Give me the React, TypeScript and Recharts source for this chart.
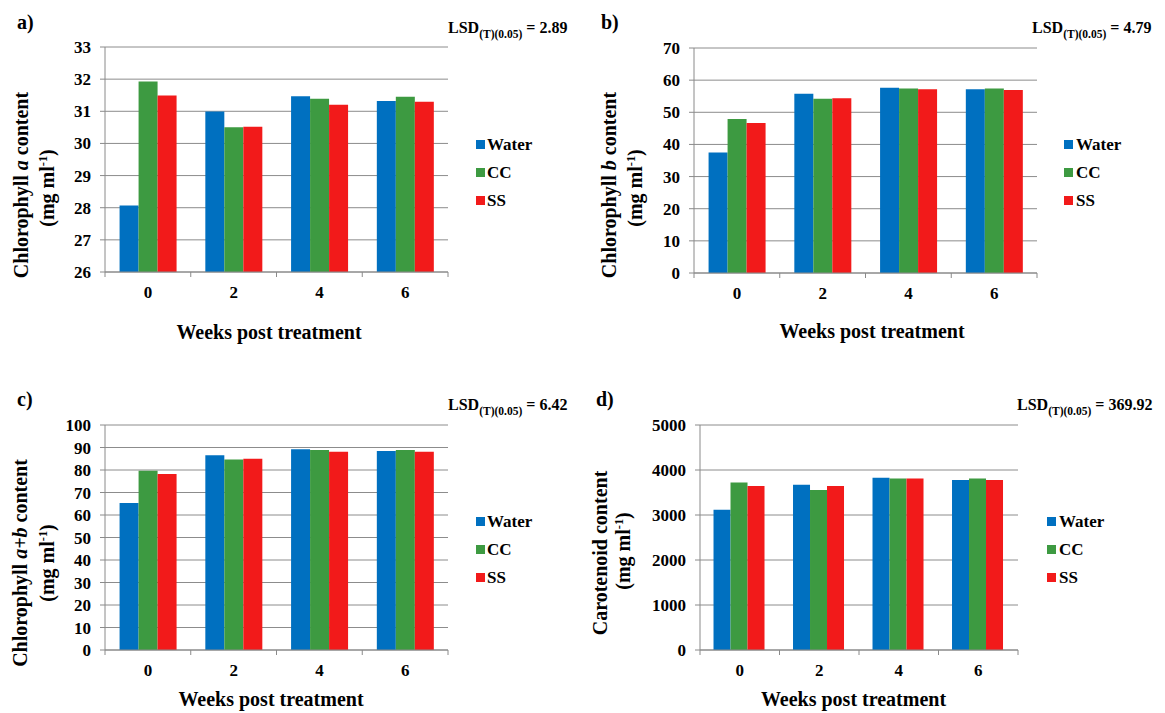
import React from 'react';
import { BarChart, Bar, XAxis, YAxis, CartesianGrid } from 'recharts';

// ---------- data ----------
const weeks = ['0', '2', '4', '6'];
const seriesNames = ['Water', 'CC', 'SS'];
const seriesColors = ['#0070C0', '#3D9A41', '#F21A1A'];

const chlA_Water = [28.07, 30.99, 31.47, 31.32];
const chlA_CC = [31.93, 30.5, 31.39, 31.45];
const chlA_SS = [31.49, 30.52, 31.2, 31.3];
const chlA_ticks = [26, 27, 28, 29, 30, 31, 32, 33];

const chlB_Water = [37.5, 55.8, 57.6, 57.2];
const chlB_CC = [47.9, 54.2, 57.4, 57.4];
const chlB_SS = [46.7, 54.4, 57.2, 56.9];
const chlB_ticks = [0, 10, 20, 30, 40, 50, 60, 70];

const chlAB_Water = [65.3, 86.6, 89.2, 88.4];
const chlAB_CC = [79.7, 84.7, 88.9, 88.9];
const chlAB_SS = [78.2, 85.0, 88.1, 88.1];
const chlAB_ticks = [0, 10, 20, 30, 40, 50, 60, 70, 80, 90, 100];

const car_Water = [3116, 3672, 3828, 3776];
const car_CC = [3724, 3553, 3813, 3813];
const car_SS = [3643, 3643, 3813, 3776];
const car_ticks = [0, 1000, 2000, 3000, 4000, 5000];

const panelLetters = ['a)', 'b)', 'c)', 'd)'];
const lsdValues = ['2.89', '4.79', '6.42', '369.92'];
const xTitle = 'Weeks post treatment';

const build = (w: number[], c: number[], s: number[]) =>
  weeks.map((wk, i) => ({ week: wk, Water: w[i], CC: c[i], SS: s[i] }));

// ---------- styling ----------
const FONT = "'Liberation Serif', Tinos, 'Times New Roman', 'DejaVu Serif', serif";
const AXIS = '#8a8a8a';
const GRID = '#8c8c8c';
const TICK_SIZE = 5;
const TICK_MARGIN = 9;

const XTick = (props: any) => {
  const { x, y, payload, index, visibleTicksCount, width } = props;
  const half =
    payload && typeof payload.offset === 'number' && payload.offset > 0
      ? payload.offset
      : width / visibleTicksCount / 2;
  const axisY = y - TICK_SIZE - TICK_MARGIN;
  return (
    <g>
      <line x1={x - half} x2={x - half} y1={axisY} y2={axisY + 5} stroke={AXIS} strokeWidth={1} />
      {index === visibleTicksCount - 1 ? (
        <line x1={x + half} x2={x + half} y1={axisY} y2={axisY + 5} stroke={AXIS} strokeWidth={1} />
      ) : null}
      <text
        x={x}
        y={y}
        dy="0.71em"
        textAnchor="middle"
        fill="#000"
        fontFamily={FONT}
        fontWeight="bold"
        fontSize={17}
      >
        {payload.value}
      </text>
    </g>
  );
};

const Txt = ({ left, cy, size, children, style }: any) => (
  <div
    style={{
      position: 'absolute',
      left,
      top: cy,
      transform: 'translateY(-50%)',
      fontSize: size,
      lineHeight: 1,
      whiteSpace: 'nowrap',
      fontFamily: FONT,
      fontWeight: 'bold',
      color: '#000',
      ...style,
    }}
  >
    {children}
  </div>
);

const CenterTxt = ({ cx, cy, size, rotate, children }: any) => (
  <div
    style={{
      position: 'absolute',
      left: cx,
      top: cy,
      transform: `translate(-50%, -50%)${rotate ? ' rotate(-90deg)' : ''}`,
      fontSize: size,
      lineHeight: 1,
      whiteSpace: 'nowrap',
      fontFamily: FONT,
      fontWeight: 'bold',
      color: '#000',
    }}
  >
    {children}
  </div>
);

const Units = () => (
  <span>
    (mg ml
    <span style={{ fontSize: '0.62em', position: 'relative', top: '-0.6em', lineHeight: 0 }}>-1</span>)
  </span>
);

const Lsd = ({ left, cy, value }: any) => (
  <Txt left={left} cy={cy} size={16}>
    LSD
    <span style={{ fontSize: 11.5, position: 'relative', top: 5, lineHeight: 0 }}>(T)(0.05)</span> = {value}
  </Txt>
);

const LegendBox = ({ sqLeft, textLeft, cys }: any) => (
  <>
    {seriesNames.map((n, i) => (
      <React.Fragment key={n}>
        <div
          style={{
            position: 'absolute',
            left: sqLeft,
            top: cys[i] - 4.5,
            width: 9,
            height: 9,
            background: seriesColors[i],
          }}
        />
        <Txt left={textLeft} cy={cys[i]} size={17}>
          {n}
        </Txt>
      </React.Fragment>
    ))}
  </>
);

const Panel = ({ left, top, width, height, margin, data, domain, ticks }: any) => (
  <div style={{ position: 'absolute', left, top, width, height }}>
    <BarChart width={width} height={height} data={data} margin={margin} barCategoryGap="17%" barGap={0}>
      <CartesianGrid vertical={false} stroke={GRID} strokeWidth={1} />
      <XAxis
        dataKey="week"
        height={30}
        axisLine={{ stroke: AXIS }}
        tickLine={false}
        tickSize={TICK_SIZE}
        tickMargin={TICK_MARGIN}
        interval={0}
        tick={<XTick />}
      />
      <YAxis
        width={60}
        domain={domain}
        ticks={ticks}
        interval={0}
        allowDataOverflow
        axisLine={{ stroke: AXIS }}
        tickLine={{ stroke: AXIS }}
        tickSize={5}
        tickMargin={9}
        tick={{ fill: '#000', fontSize: 17, fontWeight: 'bold', fontFamily: FONT }}
      />
      {seriesNames.map((n, i) => (
        <Bar key={n} dataKey={n} fill={seriesColors[i]} isAnimationActive={false} />
      ))}
    </BarChart>
  </div>
);

export default function App() {
  return (
    <div
      style={{
        position: 'absolute',
        left: 0,
        top: 0,
        width: 1165,
        height: 713,
        background: '#fff',
        overflow: 'hidden',
        fontFamily: FONT,
      }}
    >
      {/* Panel a */}
      <Panel
        left={0}
        top={0}
        width={580}
        height={350}
        margin={{ top: 47, right: 132, bottom: 48, left: 45 }}
        data={build(chlA_Water, chlA_CC, chlA_SS)}
        domain={[26, 33]}
        ticks={chlA_ticks}
      />
      <Txt left={17} cy={22} size={20}>{panelLetters[0]}</Txt>
      <Lsd left={448} cy={28} value={lsdValues[0]} />
      <LegendBox sqLeft={476} textLeft={487} cys={[144, 172, 200]} />
      <CenterTxt cx={20.5} cy={185} size={20} rotate>
        Chlorophyll <i>a</i> content
      </CenterTxt>
      <CenterTxt cx={47} cy={188} size={20} rotate>
        <Units />
      </CenterTxt>
      <CenterTxt cx={269} cy={332} size={20}>{xTitle}</CenterTxt>

      {/* Panel b */}
      <Panel
        left={580}
        top={0}
        width={585}
        height={350}
        margin={{ top: 48, right: 128, bottom: 47, left: 54 }}
        data={build(chlB_Water, chlB_CC, chlB_SS)}
        domain={[0, 70]}
        ticks={chlB_ticks}
      />
      <Txt left={601} cy={22} size={20}>{panelLetters[1]}</Txt>
      <Lsd left={1032} cy={28} value={lsdValues[1]} />
      <LegendBox sqLeft={1064} textLeft={1076} cys={[144, 172, 200]} />
      <CenterTxt cx={608.5} cy={185} size={20} rotate>
        Chlorophyll <i>b</i> content
      </CenterTxt>
      <CenterTxt cx={635} cy={188} size={20} rotate>
        <Units />
      </CenterTxt>
      <CenterTxt cx={872} cy={331} size={20}>{xTitle}</CenterTxt>

      {/* Panel c */}
      <Panel
        left={0}
        top={360}
        width={580}
        height={353}
        margin={{ top: 65, right: 132, bottom: 33, left: 45 }}
        data={build(chlAB_Water, chlAB_CC, chlAB_SS)}
        domain={[0, 100]}
        ticks={chlAB_ticks}
      />
      <Txt left={17} cy={399} size={20}>{panelLetters[2]}</Txt>
      <Lsd left={448} cy={405} value={lsdValues[2]} />
      <LegendBox sqLeft={476} textLeft={487} cys={[521, 549, 577]} />
      <CenterTxt cx={19.5} cy={562.5} size={20} rotate>
        Chlorophyll <i>a+b</i> content
      </CenterTxt>
      <CenterTxt cx={46.7} cy={563} size={20} rotate>
        <Units />
      </CenterTxt>
      <CenterTxt cx={271} cy={699} size={20}>{xTitle}</CenterTxt>

      {/* Panel d */}
      <Panel
        left={580}
        top={360}
        width={585}
        height={353}
        margin={{ top: 65, right: 147, bottom: 33, left: 60 }}
        data={build(car_Water, car_CC, car_SS)}
        domain={[0, 5000]}
        ticks={car_ticks}
      />
      <Txt left={596} cy={399} size={20}>{panelLetters[3]}</Txt>
      <Lsd left={1017} cy={405} value={lsdValues[3]} />
      <LegendBox sqLeft={1047} textLeft={1059} cys={[521, 549, 577]} />
      <CenterTxt cx={599.5} cy={553} size={20} rotate>
        Carotenoid content
      </CenterTxt>
      <CenterTxt cx={623.3} cy={551} size={20} rotate>
        <Units />
      </CenterTxt>
      <CenterTxt cx={853.5} cy={699} size={20}>{xTitle}</CenterTxt>
    </div>
  );
}
